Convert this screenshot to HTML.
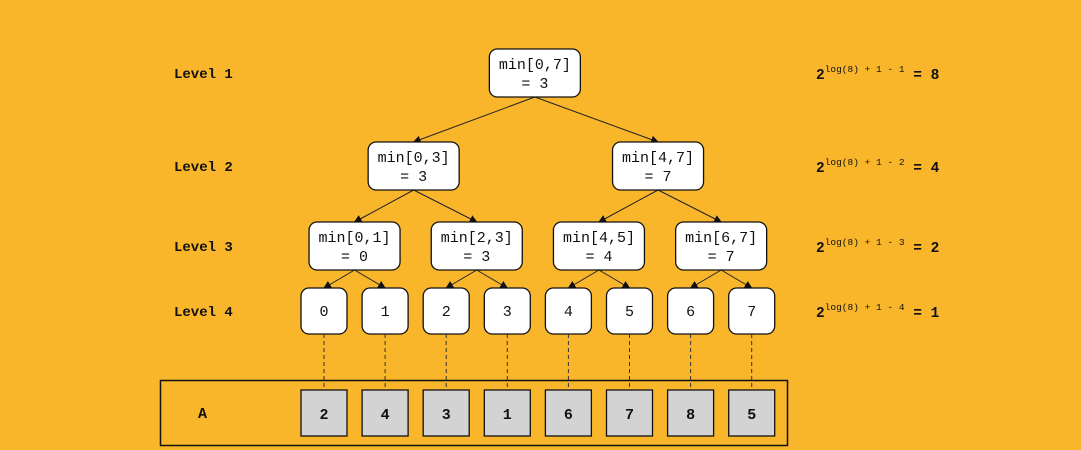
<!DOCTYPE html>
<html><head><meta charset="utf-8"><style>
html,body{margin:0;padding:0;background:#F9B62B;}
svg{display:block;font-family:"Liberation Mono",monospace;}
</style></head><body>
<svg id="s" width="1081" height="450" viewBox="0 0 1081 450">
<defs><marker id="ah" markerWidth="8" markerHeight="8" refX="7" refY="4" orient="auto" markerUnits="userSpaceOnUse"><path d="M0,0 L8,4 L0,8 z" fill="#111"/></marker></defs>
<g id="g"></g>
</svg>
<script>
const arr = [2,4,3,1,6,7,8,5];
const levelLabels = ["Level 1","Level 2","Level 3","Level 4"];
const formulaLevels = [1,2,3,4];
const formulaValues = [8,4,2,1];
const NS="http://www.w3.org/2000/svg";
const g=document.getElementById('g');
function el(t,a,p){const e=document.createElementNS(NS,t);for(const k in a)e.setAttribute(k,a[k]);(p||g).appendChild(e);return e;}
function minIdx(l,r){let m=l;for(let i=l;i<=r;i++)if(arr[i]<arr[m])m=i;return m;}
const leafX=i=>324+i*61.1;
const levelY=[49,142,222,288];
const levelTextY=[74,167,247,312];
levelLabels.forEach((t,i)=>{
 const e=el('text',{x:174,y:levelTextY[i]+4,'font-size':14,'font-weight':'bold',fill:'#111'});e.textContent=t;
 
 
 const f=el('text',{x:816,y:levelTextY[i]+5,'font-size':14.5,'font-weight':'bold',fill:'#111'});
 
 
 const t1=document.createElementNS(NS,'tspan');t1.textContent='2';f.appendChild(t1);
 const t2=document.createElementNS(NS,'tspan');t2.setAttribute('font-size','9.5');t2.setAttribute('font-weight','normal');t2.setAttribute('dy','-7');t2.textContent='log(8) + 1 - '+formulaLevels[i];f.appendChild(t2);
 const t3=document.createElementNS(NS,'tspan');t3.setAttribute('dy','7');t3.textContent=' = '+formulaValues[i];f.appendChild(t3);
});
const o=el('rect',{x:160.5,y:380.5,width:627,height:65,fill:'none',stroke:'#111','stroke-width':1.5});


const at=el('text',{x:198,y:418,'font-size':15,'font-weight':'bold',fill:'#111'});at.textContent='A';


const nodes=[];
function build(l,r,lv){
 const cx=(leafX(l)+leafX(r))/2 - (lv===0?3:(lv===1?2:0));
 const n={l,r,lv,cx,y:levelY[lv]};
 if(l<r){const m=(l+r)>>1;n.kids=[build(l,m,lv+1),build(m+1,r,lv+1)];}
 nodes.push(n);return n;
}
build(0,arr.length-1,0);
nodes.forEach(n=>{
 if(!n.kids)return;
 const h=48;
 n.kids.forEach(k=>{
  const ln=el('line',{x1:n.cx,y1:n.y+h,x2:k.cx,y2:k.y,stroke:'#222','stroke-width':1,'marker-end':'url(#ah)'});
  
  
 });
});
nodes.forEach(n=>{
 const leaf=!n.kids;const w=leaf?46:91,h=leaf?46:48;
 const r=el('rect',{x:n.cx-w/2,y:n.y,width:w,height:h,rx:8,fill:'#fff',stroke:'#111','stroke-width':1.3});
 
 
 if(leaf){
  const t=el('text',{x:n.cx,y:n.y+28,'font-size':15,'text-anchor':'middle',fill:'#111'});t.textContent=n.l;
  const d=el('line',{x1:n.cx,y1:n.y+h,x2:n.cx,y2:390,stroke:'#333','stroke-dasharray':'4,3'});
  
  
 } else {
  const t1=el('text',{x:n.cx,y:n.y+20,'font-size':15,'text-anchor':'middle',fill:'#111'});t1.textContent='min['+n.l+','+n.r+']';
  const t2=el('text',{x:n.cx,y:n.y+39,'font-size':15,'text-anchor':'middle',fill:'#111'});t2.textContent='= '+minIdx(n.l,n.r);
 }
});
arr.forEach((v,i)=>{
 const r=el('rect',{x:leafX(i)-23,y:390,width:46,height:46,fill:'#d3d3d3',stroke:'#111','stroke-width':1.3});
 
 
 const t=el('text',{x:leafX(i),y:419,'font-size':15,'font-weight':'bold','text-anchor':'middle',fill:'#111'});t.textContent=v;
});
</script>
</body></html>
